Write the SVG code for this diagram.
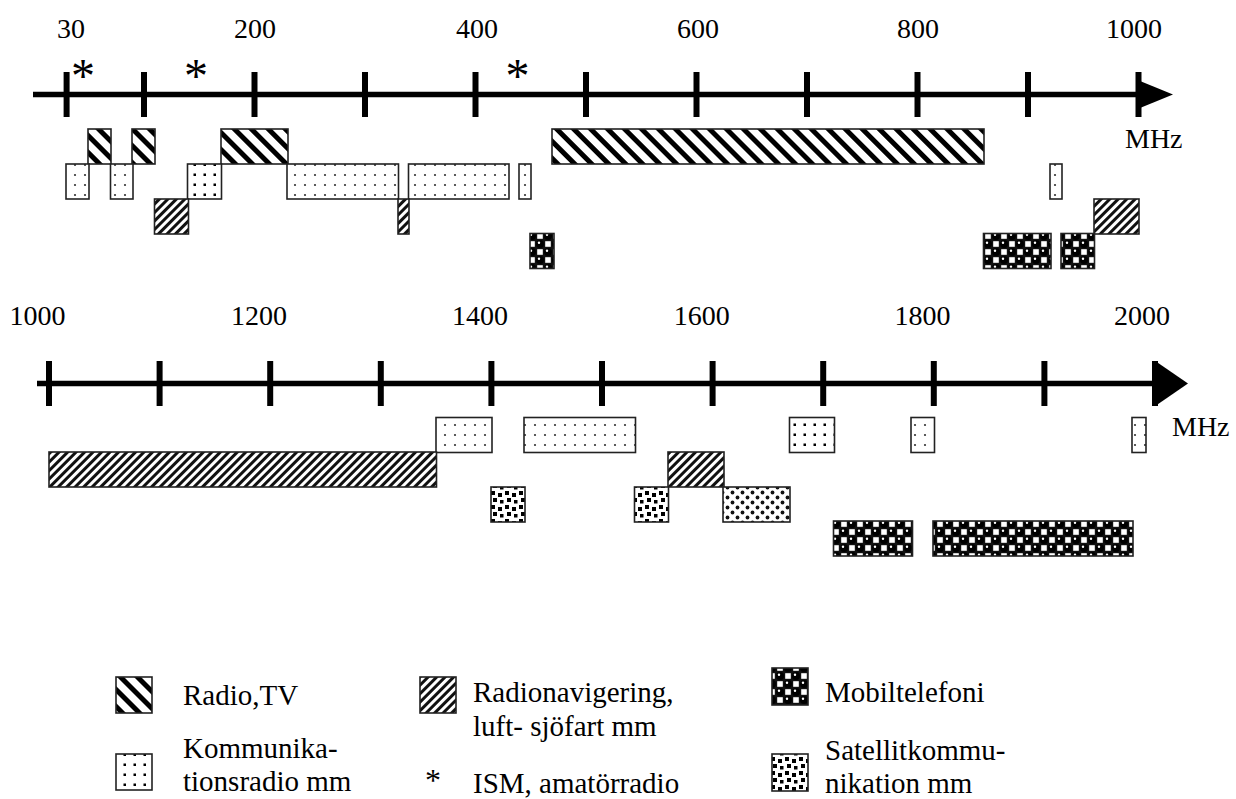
<svg xmlns="http://www.w3.org/2000/svg" width="1236" height="799" viewBox="0 0 1236 799">
<style>
text{font-family:"Liberation Serif","Times New Roman",serif;fill:#000}
.lbl{font-size:28px;text-anchor:middle}
.leg{font-size:29px}
.ast{font-size:48px;text-anchor:middle}
.ax{stroke:#000;stroke-width:5.5;fill:none}
.tk{stroke:#000;stroke-width:6}
.b{stroke:#222;stroke-width:1.6}
.tv{fill:url(#pTV)}
.nav{fill:url(#pNav)}
.kom{fill:url(#pKom)}
.kom2{fill:url(#pKom2)}
.mob{fill:url(#pMob)}
.sat{fill:url(#pSat)}
.sat2{fill:url(#pSat2)}
</style>
<defs>
<pattern id="pTV" width="12" height="12" patternUnits="userSpaceOnUse" patternTransform="rotate(-45)">
<rect width="12" height="12" fill="#fff"/>
<rect x="0" y="0" width="5" height="12" fill="#000"/>
</pattern>
<pattern id="pNav" width="6" height="6" patternUnits="userSpaceOnUse" patternTransform="rotate(45)">
<rect width="6" height="6" fill="#fff"/>
<rect x="0" y="0" width="3" height="6" fill="#111"/>
</pattern>
<pattern id="pKom" width="10" height="10" patternUnits="userSpaceOnUse">
<rect width="10" height="10" fill="#fff"/>
<circle cx="5" cy="5" r="1.1" fill="#333"/>
</pattern>
<pattern id="pKom2" width="10" height="10" patternUnits="userSpaceOnUse">
<rect width="10" height="10" fill="#fff"/>
<rect x="3.5" y="3.5" width="2.5" height="2.5" fill="#000"/>
</pattern>
<pattern id="pMob" width="16" height="16" patternUnits="userSpaceOnUse">
<rect width="16" height="16" fill="#111"/>
<rect x="1.2" y="1.2" width="5.6" height="5.6" fill="#fff"/>
<rect x="9.2" y="9.2" width="5.6" height="5.6" fill="#fff"/>
<circle cx="12" cy="4" r="4" fill="#000"/>
<circle cx="4" cy="12" r="4" fill="#000"/>
<circle cx="11" cy="2.8" r="1.2" fill="#fff"/>
<circle cx="3" cy="10.8" r="1.2" fill="#fff"/>
</pattern>
<pattern id="pSat" width="14" height="14" patternUnits="userSpaceOnUse">
<rect width="14" height="14" fill="#fff"/>
<rect x="1" y="1" width="4" height="4" fill="#000"/>
<rect x="8" y="3" width="4" height="4" fill="#000"/>
<rect x="3" y="8" width="4" height="4" fill="#000"/>
<rect x="10" y="10" width="3.5" height="3.5" fill="#000"/>
</pattern>
<pattern id="pSat2" width="10" height="10" patternUnits="userSpaceOnUse">
<rect width="10" height="10" fill="#fff"/>
<circle cx="2.5" cy="2.5" r="1.9" fill="#111"/>
<circle cx="7.5" cy="7.5" r="1.9" fill="#111"/>
</pattern>
</defs>

<g id="axis1">
<line class="ax" x1="33" y1="94.5" x2="1145" y2="94.5"/>
<g class="tk">
<line x1="66.6" y1="72" x2="66.6" y2="117"/>
<line x1="144" y1="72" x2="144" y2="117"/>
<line x1="254.5" y1="72" x2="254.5" y2="117"/>
<line x1="365" y1="72" x2="365" y2="117"/>
<line x1="475.5" y1="72" x2="475.5" y2="117"/>
<line x1="586" y1="72" x2="586" y2="117"/>
<line x1="696.5" y1="72" x2="696.5" y2="117"/>
<line x1="807" y1="72" x2="807" y2="117"/>
<line x1="917.5" y1="72" x2="917.5" y2="117"/>
<line x1="1028" y1="72" x2="1028" y2="117"/>
<line x1="1138.5" y1="72" x2="1138.5" y2="117"/>
</g>
<polygon points="1140,81 1173,94.5 1140,108" fill="#000"/>
<text class="lbl" x="71" y="38">30</text>
<text class="lbl" x="255" y="38">200</text>
<text class="lbl" x="477" y="38">400</text>
<text class="lbl" x="698" y="38">600</text>
<text class="lbl" x="918" y="38">800</text>
<text class="lbl" x="1134" y="38">1000</text>
<text x="1125" y="148" style="font-size:28px">MHz</text>
<text class="ast" x="83" y="92">*</text>
<text class="ast" x="196" y="92">*</text>
<text class="ast" x="517.5" y="92">*</text>
</g>

<g id="bands1">
<rect class="b tv" x="88" y="129" width="23" height="35"/>
<rect class="b tv" x="132" y="129" width="23" height="35"/>
<rect class="b tv" x="221" y="129" width="67" height="35"/>
<rect class="b tv" x="552" y="129" width="432" height="35"/>
<rect class="b kom" x="66" y="164" width="23" height="35"/>
<rect class="b kom" x="110.5" y="164" width="22.5" height="35"/>
<rect class="b kom2" x="187.5" y="164" width="34" height="35"/>
<rect class="b kom" x="287" y="164" width="111.5" height="35"/>
<rect class="b kom" x="408.5" y="164" width="100.5" height="35"/>
<rect class="b kom" x="519" y="164" width="12" height="35"/>
<rect class="b kom" x="1050" y="164" width="12" height="35"/>
<rect class="b nav" x="154.5" y="199" width="34" height="35"/>
<rect class="b nav" x="398" y="199" width="11" height="35"/>
<rect class="b nav" x="1094" y="199" width="45" height="35"/>
<rect class="b mob" x="530" y="233.5" width="24" height="35"/>
<rect class="b mob" x="983.5" y="233.5" width="67.5" height="35"/>
<rect class="b mob" x="1061" y="233.5" width="33.5" height="35"/>
</g>

<g id="axis2">
<line class="ax" x1="37" y1="383.5" x2="1160" y2="383.5"/>
<g class="tk">
<line x1="49" y1="361" x2="49" y2="406"/>
<line x1="159.6" y1="361" x2="159.6" y2="406"/>
<line x1="270.2" y1="361" x2="270.2" y2="406"/>
<line x1="380.8" y1="361" x2="380.8" y2="406"/>
<line x1="491.4" y1="361" x2="491.4" y2="406"/>
<line x1="602" y1="361" x2="602" y2="406"/>
<line x1="712.6" y1="361" x2="712.6" y2="406"/>
<line x1="823.2" y1="361" x2="823.2" y2="406"/>
<line x1="933.8" y1="361" x2="933.8" y2="406"/>
<line x1="1044.4" y1="361" x2="1044.4" y2="406"/>
<line x1="1155" y1="361" x2="1155" y2="406"/>
</g>
<polygon points="1156,361.5 1188,383.5 1156,405.5" fill="#000"/>
<text class="lbl" x="37.5" y="325">1000</text>
<text class="lbl" x="259" y="325">1200</text>
<text class="lbl" x="480" y="325">1400</text>
<text class="lbl" x="701.7" y="325">1600</text>
<text class="lbl" x="922.5" y="325">1800</text>
<text class="lbl" x="1142" y="325">2000</text>
<text x="1172" y="436" style="font-size:28px">MHz</text>
</g>

<g id="bands2">
<rect class="b kom" x="436" y="417.5" width="56" height="35"/>
<rect class="b kom" x="524" y="417.5" width="111.5" height="35"/>
<rect class="b kom2" x="789.5" y="417.5" width="45" height="35"/>
<rect class="b kom" x="911" y="417.5" width="23.5" height="35"/>
<rect class="b kom" x="1132" y="417.5" width="14" height="35"/>
<rect class="b nav" x="49" y="452" width="387.5" height="35"/>
<rect class="b nav" x="668" y="452" width="56" height="35"/>
<rect class="b sat" x="491" y="487" width="34" height="35"/>
<rect class="b sat" x="634.5" y="487" width="34" height="35"/>
<rect class="b sat2" x="723" y="487" width="67" height="35"/>
<rect class="b mob" x="833.5" y="521" width="79" height="35"/>
<rect class="b mob" x="933" y="521" width="200" height="35"/>
</g>

<g id="legend-radiotv">
<rect class="b tv" x="116" y="677" width="36" height="36"/>
<text class="leg" x="183" y="705">Radio,TV</text>
</g>
<g id="legend-kom">
<rect class="b kom2" x="116" y="754" width="36" height="36"/>
<text class="leg" x="183" y="758">Kommunika-</text>
<text class="leg" x="183" y="791">tionsradio mm</text>
</g>
<g id="legend-nav">
<rect class="b nav" x="420" y="677" width="36" height="36"/>
<text class="leg" x="473" y="702">Radionavigering,</text>
<text class="leg" x="473" y="736">luft- sjöfart mm</text>
</g>
<g id="legend-ism">
<text x="433" y="791" style="font-size:32px;text-anchor:middle">*</text>
<text class="leg" x="473" y="793">ISM, amatörradio</text>
</g>
<g id="legend-mob">
<rect class="b mob" x="772" y="668" width="36" height="37"/>
<text class="leg" x="825" y="702">Mobiltelefoni</text>
</g>
<g id="legend-sat">
<rect class="b sat" x="772" y="754" width="36" height="37"/>
<text class="leg" x="825" y="760">Satellitkommu-</text>
<text class="leg" x="825" y="793">nikation mm</text>
</g>
</svg>
